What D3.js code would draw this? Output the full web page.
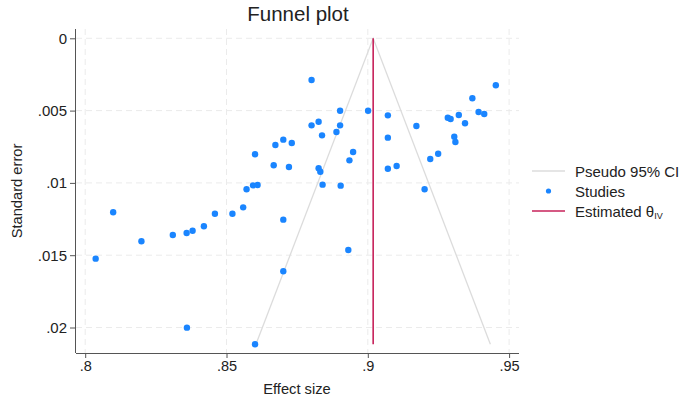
<!DOCTYPE html>
<html><head><meta charset="utf-8">
<script src="https://cdn.jsdelivr.net/npm/d3@7"></script>
<style>
html,body{margin:0;padding:0;background:#fff;}
text{font-family:"Liberation Sans",Arial,Helvetica,sans-serif;fill:#222;}
</style></head>
<body>
<svg id="chart" width="685" height="402"></svg>
<script>
// Data: effect size and standard error of each study
const effectSize = [0.8601,0.8673,0.8701,0.8731,0.8667,0.8721,0.8571,0.8594,0.8610,0.8801,
  0.8902,0.9001,0.9071,0.8801,0.8826,0.8902,0.8889,0.8838,0.9172,0.9071,
  0.8948,0.8935,0.8826,0.8832,0.9071,0.9102,0.9221,0.9249,0.8840,0.8904,
  0.9201,0.9283,0.9293,0.9322,0.9344,0.9370,0.9392,0.9412,0.9453,0.9306,
  0.9310,0.8099,0.8037,0.8199,0.8310,0.8359,0.8380,0.8420,0.8459,0.8521,
  0.8559,0.8701,0.8701,0.8360,0.8601,0.8931];
const stdError = [0.00802,0.00738,0.00701,0.00724,0.00878,0.00890,0.01044,0.01017,0.01015,0.00288,
  0.00501,0.00501,0.00533,0.00602,0.00577,0.00602,0.00648,0.00671,0.00607,0.00687,
  0.00786,0.00844,0.00899,0.00923,0.00902,0.00883,0.00835,0.00798,0.01012,0.01019,
  0.01044,0.00549,0.00558,0.00530,0.00588,0.00415,0.00510,0.00524,0.00325,0.00680,
  0.00717,0.01203,0.01524,0.01404,0.01360,0.01346,0.01331,0.01300,0.01213,0.01213,
  0.01169,0.01254,0.01611,0.02001,0.02116,0.01464];
const thetaIV = 0.9019;
const seMax = 0.02116;
const xTicks = [0.8, 0.85, 0.9, 0.95];
const xTickLabels = [".8", ".85", ".9", ".95"];
const yTicks = [0, 0.005, 0.01, 0.015, 0.02];
const yTickLabels = ["0", ".005", ".01", ".015", ".02"];
const legendLabels = ["Pseudo 95% CI", "Studies", "Estimated θ"];

const svg = d3.select("#chart");
const L = 76, R = 519, T = 29, B = 353;
const x = d3.scaleLinear().domain([0.8, 0.95]).range([85.2, 509.1]);
const y = d3.scaleLinear().domain([0, 0.02]).range([38.3, 327.5]);

const blue = "#1a85ff", red = "#c7225a", grey = "#dcdcdc";

// gridlines
const grid = svg.append("g");
grid.selectAll(".vg").data(xTicks).join("line")
  .attr("x1", d => x(d)).attr("x2", d => x(d)).attr("y1", T).attr("y2", B)
  .attr("stroke", "#ebebeb").attr("stroke-width", 1).attr("stroke-dasharray", "6,4");
grid.selectAll(".hg").data(yTicks).join("line")
  .attr("x1", L).attr("x2", R).attr("y1", d => y(d)).attr("y2", d => y(d))
  .attr("stroke", "#ebebeb").attr("stroke-width", 1).attr("stroke-dasharray", "6,4");

// pseudo 95% CI funnel
const funnel = [[thetaIV - 1.96 * seMax, seMax], [thetaIV, 0], [thetaIV + 1.96 * seMax, seMax]];
svg.append("path").datum(funnel)
  .attr("d", d3.line().x(d => x(d[0])).y(d => y(d[1])))
  .attr("fill", "none").attr("stroke", grey).attr("stroke-width", 1.3);

// studies
svg.append("g").selectAll("circle").data(effectSize.map((e, i) => [e, stdError[i]])).join("circle")
  .attr("cx", d => x(d[0])).attr("cy", d => y(d[1])).attr("r", 3.2).attr("fill", blue);

// estimated theta line
svg.append("line").attr("x1", x(thetaIV)).attr("x2", x(thetaIV))
  .attr("y1", y(0)).attr("y2", y(seMax)).attr("stroke", red).attr("stroke-width", 1.6);

// axes
const xAxis = d3.axisBottom(x).tickValues(xTicks).tickFormat((d, i) => xTickLabels[i]).tickSize(5).tickPadding(3);
const gx = svg.append("g").attr("transform", `translate(0,${B})`).call(xAxis);
gx.select(".domain").attr("d", `M${L},0.5H${R}`).attr("stroke", "#555");
gx.selectAll(".tick line").attr("stroke", "#555");
gx.selectAll(".tick text").attr("font-size", "14.5px").attr("fill", "#222")
  .attr("font-family", "'Liberation Sans',Arial,sans-serif");

const yAxis = d3.axisLeft(y).tickValues(yTicks).tickFormat((d, i) => yTickLabels[i]).tickSize(6).tickPadding(3);
const gy = svg.append("g").attr("transform", `translate(${L},0)`).call(yAxis);
gy.select(".domain").attr("d", `M-0.5,${T}V${B}`).attr("stroke", "#555");
gy.selectAll(".tick line").attr("stroke", "#555");
gy.selectAll(".tick text").attr("font-size", "15px").attr("fill", "#222")
  .attr("font-family", "'Liberation Sans',Arial,sans-serif");

// titles
svg.append("text").attr("x", 298).attr("y", 21).attr("text-anchor", "middle")
  .attr("font-size", "20.5px").text("Funnel plot");
svg.append("text").attr("x", 297).attr("y", 394).attr("text-anchor", "middle")
  .attr("font-size", "14.7px").text("Effect size");
svg.append("text").attr("transform", "translate(22,191) rotate(-90)").attr("text-anchor", "middle")
  .attr("font-size", "14.7px").text("Standard error");

// legend
const lg = svg.append("g");
const rows = [171, 191, 211];
lg.append("line").attr("x1", 532).attr("x2", 565).attr("y1", rows[0]).attr("y2", rows[0])
  .attr("stroke", grey).attr("stroke-width", 1.3);
lg.append("circle").attr("cx", 548.5).attr("cy", rows[1]).attr("r", 2.6).attr("fill", blue);
lg.append("line").attr("x1", 532).attr("x2", 565).attr("y1", rows[2]).attr("y2", rows[2])
  .attr("stroke", red).attr("stroke-width", 1.6);
legendLabels.forEach((t, i) => {
  const tx = lg.append("text").attr("x", 575).attr("y", rows[i] + 5.7).attr("font-size", "15px").text(t);
  if (i === 2) tx.append("tspan").attr("font-size", "9px").attr("dy", 2).text("IV");
});
</script>
</body></html>
